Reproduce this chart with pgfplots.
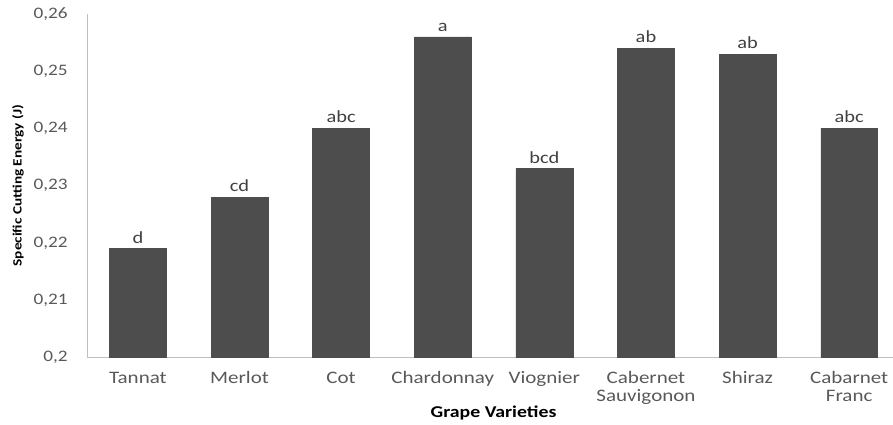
\documentclass[border=0pt]{standalone}
\usepackage{pgfplots}
\pgfplotsset{compat=1.18}
\usepackage{pgfplotstable}
\usepackage{fontspec}
\setmainfont{Carlito}[FakeStretch=1.2]
\definecolor{barc}{HTML}{4D4D4D}
\definecolor{tickc}{HTML}{595959}
\definecolor{axc}{HTML}{BFBFBF}
\definecolor{lblc}{HTML}{404040}
\pgfplotstableread{
x y lab
0 0.219 d
1 0.228 cd
2 0.240 abc
3 0.256 a
4 0.233 bcd
5 0.254 ab
6 0.253 ab
7 0.240 abc
}\datatab
\begin{document}
\fontsize{15.5pt}{18pt}\selectfont
\begin{tikzpicture}
\begin{axis}[
  scale only axis,
  width=812pt, height=343pt,
  ybar, bar width=0.56,
  xmin=-0.5, xmax=7.5,
  ymin=0.2, ymax=0.26,
  ytick={0.2,0.21,0.22,0.23,0.24,0.25,0.26},
  xtick=data,
  xticklabels={Tannat, Merlot, Cot, Chardonnay, Viognier, {Cabernet\\Sauvigonon}, Shiraz, {Cabarnet\\Franc}},
  xticklabel style={align=center, text=tickc, font=\fontsize{17.5pt}{18pt}\selectfont, yshift=-9pt},
  yticklabel style={text=tickc, font=\fontsize{16pt}{18pt}\selectfont, xshift=-14pt},
  /pgf/number format/.cd, use comma, fixed, precision=2, assume math mode=true,
  /pgfplots/.cd,
  major tick length=0pt,
  axis x line*=bottom, axis y line*=left,
  axis line style={axc, line width=1pt},
  x axis line style={-}, y axis line style={-},
  xlabel={\textbf{Grape Varieties}},
  ylabel={\textbf{Specific Cutting Energy (J)}},
  x label style={at={(axis description cs:0.5,-0.163)}, anchor=center, font=\fontsize{16.5pt}{18pt}\selectfont, text=black},
  y label style={at={(axis description cs:-0.085,0.5)}, anchor=center, font=\fontsize{12.7pt}{15pt}\selectfont, text=black},
  nodes near coords,
  point meta=explicit symbolic,
  every node near coord/.append style={text=lblc, font=\fontsize{17pt}{18pt}\selectfont, yshift=0pt},
  enlarge x limits=false,
]
\addplot[fill=barc, draw=barc] table[x=x, y=y, meta=lab] {\datatab};
\end{axis}
\pgfresetboundingbox
\path ([shift={(-87pt,-67pt)}]current axis.south west) rectangle ([shift={(-7pt,14pt)}]current axis.north east);
\end{tikzpicture}
\end{document}
